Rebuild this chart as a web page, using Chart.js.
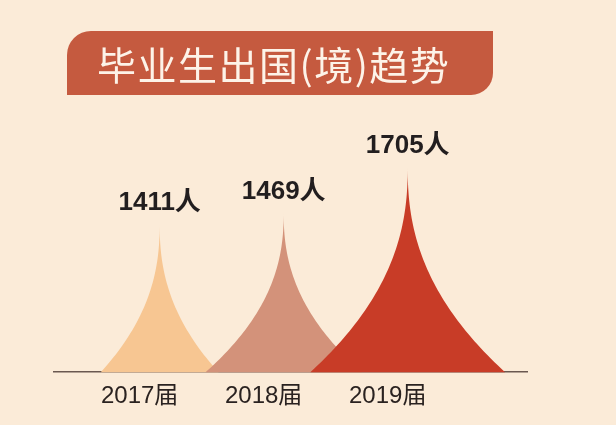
<!DOCTYPE html>
<html>
<head>
<meta charset="utf-8">
<script src="https://cdn.jsdelivr.net/npm/chart.js@4/dist/chart.umd.min.js"></script>
<style>
  html, body { margin: 0; padding: 0; background: #fbebd8; }
  #c { display: block; }
</style>
</head>
<body>
<canvas id="c" width="616" height="425"></canvas>
<script>
// ---- data ----
const title = '毕业生出国(境)趋势';
const years = [2017, 2018, 2019];
const categoryLabels = ['2017届', '2018届', '2019届'];
const graduates = [1411, 1469, 1705];
const unit = '人';
const spikeColors = ['#f7c692', '#d3927a', '#c83c27'];

const CJK = '"Noto Sans CJK SC", "Noto Sans", sans-serif';
const LATIN = '"Liberation Sans", Arial, "Noto Sans CJK SC", sans-serif';

const bgPlugin = {
  id: 'bgBanner',
  beforeDraw(chart) {
    const ctx = chart.ctx;
    ctx.save();
    ctx.fillStyle = '#fbebd8';
    ctx.fillRect(0, 0, chart.width, chart.height);
    // banner
    const x0 = 67, y0 = 31, x1 = 493, y1 = 95, r1 = 24, r2 = 22;
    ctx.beginPath();
    ctx.moveTo(x0, y1);
    ctx.lineTo(x0, y0 + r1);
    ctx.arcTo(x0, y0, x0 + r1, y0, r1);
    ctx.lineTo(x1, y0);
    ctx.lineTo(x1, y1 - r2);
    ctx.arcTo(x1, y1, x1 - r2, y1, r2);
    ctx.closePath();
    ctx.fillStyle = '#c55a3f';
    ctx.fill();
    ctx.fillStyle = '#fdf3e8';
    ctx.font = '39px ' + CJK;
    ctx.textBaseline = 'middle';
    ctx.textAlign = 'left';
    try { ctx.letterSpacing = '1.5px'; } catch (e) {}
    ctx.fillText(title, 97, 65);
    ctx.restore();
  }
};

const spikePlugin = {
  id: 'spikes',
  afterDatasetsDraw(chart) {
    const ctx = chart.ctx;
    const meta = chart.getDatasetMeta(0);
    const xs = chart.scales.x, ys = chart.scales.y;
    const base = ys.bottom;
    const step = Math.abs(xs.getPixelForValue(years[1]) - xs.getPixelForValue(years[0]));
    ctx.save();
    meta.data.forEach((pt, i) => {
      const cx = pt.x, py = pt.y;
      const h = base - py;
      const hw = (0.475 + 0.155 * i) * step;
      const p = 2.3;
      ctx.beginPath();
      ctx.moveTo(cx - hw, base);
      const N = 60;
      for (let k = 1; k <= N; k++) {
        const f = k / N;
        ctx.lineTo(cx - hw * Math.pow(1 - f, p), base - h * f);
      }
      for (let k = N - 1; k >= 0; k--) {
        const f = k / N;
        ctx.lineTo(cx + hw * Math.pow(1 - f, p), base - h * f);
      }
      ctx.closePath();
      ctx.fillStyle = spikeColors[i];
      ctx.fill();
    });
    // value labels
    ctx.fillStyle = '#221e1f';
    ctx.font = 'bold 26px ' + LATIN;
    ctx.textAlign = 'center';
    ctx.textBaseline = 'middle';
    meta.data.forEach((pt, i) => {
      ctx.fillText(graduates[i] + unit, pt.x, pt.y - 21);
    });
    ctx.restore();
  }
};

new Chart(document.getElementById('c'), {
  type: 'line',
  data: {
    datasets: [{
      data: years.map((yr, i) => ({ x: yr, y: graduates[i] })),
      showLine: false,
      pointRadius: 0,
      pointHoverRadius: 0
    }]
  },
  options: {
    responsive: false,
    animation: false,
    events: [],
    layout: { padding: { left: 54, right: 89, top: 120, bottom: 4 } },
    plugins: { legend: { display: false }, tooltip: { enabled: false }, title: { display: false } },
    scales: {
      x: {
        type: 'linear',
        min: 2016.148,
        max: 2019.962,
        z: 1,
        afterBuildTicks(scale) { scale.ticks = years.map(v => ({ value: v })); },
        grid: { display: false, drawTicks: false },
        border: { display: true, color: '#6a5850', width: 1.5 },
        ticks: {
          padding: 10,
          labelOffset: -20,
          color: '#2a2220',
          font: { family: LATIN, size: 24 },
          callback: (v) => categoryLabels[years.indexOf(v)]
        }
      },
      y: {
        display: false,
        min: 640,
        max: 1950
      }
    }
  },
  plugins: [bgPlugin, spikePlugin]
});
</script>
</body>
</html>
